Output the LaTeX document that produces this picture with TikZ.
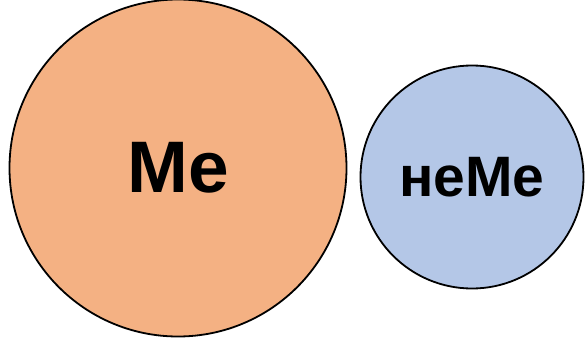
\documentclass[tikz,border=0pt]{standalone}
\usepackage{fontspec}
\setmainfont{Liberation Sans}
\usetikzlibrary{positioning}
\definecolor{meorange}{HTML}{F4B183}
\definecolor{meblue}{HTML}{B4C7E7}

\begin{document}
\begin{tikzpicture}[
  x=1pt, y=-1pt,
  blob/.style = {circle, draw=black, line width=1.8pt, inner sep=0pt},
  lbl/.style  = {font=\bfseries},
]
\useasboundingbox (0,0) rectangle (585,337);

\node[blob, fill=meorange, minimum size=337pt] (me)   at (178,168) {};
\node[blob, fill=meblue,   minimum size=223pt] (neme) at (472,177) {};

\node[lbl, font=\fontsize{73}{73}\selectfont\bfseries] at (me.center) {Me};
\node[lbl, font=\fontsize{57}{57}\selectfont\bfseries] at (neme.center) {неМе};
\end{tikzpicture}
\end{document}
